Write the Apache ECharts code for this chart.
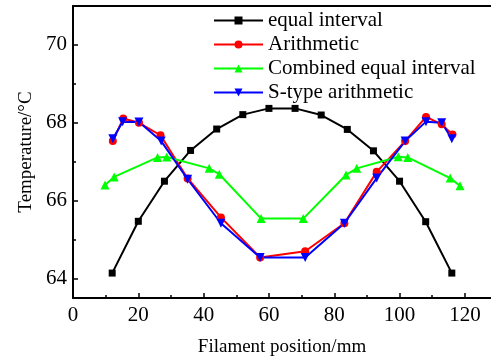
<!DOCTYPE html>
<html>
<head>
<meta charset="utf-8">
<script src="https://cdn.jsdelivr.net/npm/echarts@6/dist/echarts.min.js"></script>
<style>
  html, body { margin: 0; padding: 0; background: #fff; }
  #main { width: 491px; height: 357px; }
</style>
</head>
<body>
<div id="main"></div>
<script>
// filament position (mm) / temperature (°C)
var equalX = [12, 20, 28, 36, 44, 52, 60, 68, 76, 84, 92, 100, 108, 116];
var equalY = [64.14, 65.47, 66.5, 67.29, 67.84, 68.21, 68.37, 68.37, 68.2, 67.83, 67.28, 66.5, 65.46, 64.14];

var arithX = [12.2, 15.4, 20.2, 26.8, 35.1, 45.3, 57.3, 71.1, 83.1, 93.0, 101.7, 108.1, 112.9, 116.2];
var arithY = [67.53, 68.11, 68.0, 67.68, 66.57, 65.57, 64.54, 64.70, 65.42, 66.74, 67.53, 68.15, 67.96, 67.7];

var combX = [9.8, 12.6, 25.9, 28.7, 41.7, 44.8, 57.6, 70.5, 83.6, 86.9, 99.6, 102.5, 115.5, 118.5];
var combY = [66.40, 66.61, 67.11, 67.12, 66.83, 66.68, 65.54, 65.54, 66.66, 66.83, 67.13, 67.11, 66.58, 66.38];

var sTypeX = [12.2, 15.2, 20.2, 27.0, 35.1, 45.3, 57.3, 71.1, 83.1, 93.0, 101.7, 108.1, 112.9, 116.0];
var sTypeY = [67.59, 68.03, 68.02, 67.53, 66.55, 65.42, 64.54, 64.54, 65.42, 66.58, 67.53, 68.03, 68.0, 67.59];

var xMajor = [0, 20, 40, 60, 80, 100, 120];
var xMinor = [10, 30, 50, 70, 90, 110];
var yMajor = [64, 66, 68, 70];
var yMinor = [65, 67, 69];

var font = 'Liberation Serif';

function pairs(xs, ys) {
  return xs.map(function (x, i) { return [x, ys[i]]; });
}

function mkSeries(name, xs, ys, color, symbol, size) {
  return {
    name: name,
    type: 'line',
    xAxisIndex: 0,
    yAxisIndex: 0,
    data: pairs(xs, ys),
    symbol: symbol,
    symbolSize: size,
    itemStyle: { color: color },
    lineStyle: { color: color, width: 2 },
    animation: false
  };
}

var gridPos = { left: 73, top: 6, right: 0, bottom: 59, containLabel: false, outerBoundsMode: 'none' };
var chart = echarts.init(document.getElementById('main'));

chart.setOption({
  backgroundColor: '#fff',
  textStyle: { fontFamily: font },
  grid: [
    Object.assign({}, gridPos),
    Object.assign({}, gridPos)
  ],
  legend: {
    orient: 'vertical',
    left: 213,
    top: 10,
    padding: 0,
    itemGap: 3,
    itemWidth: 49,
    itemHeight: 10,
    textStyle: { fontFamily: font, fontSize: 21, color: '#000', padding: [0, 0, 0, 0] },
    data: ['equal interval', 'Arithmetic', 'Combined equal interval', 'S-type arithmetic']
  },
  xAxis: [
    {
      gridIndex: 0, type: 'value', min: 0, max: 128, position: 'bottom',
      name: 'Filament position/mm', nameLocation: 'middle', nameGap: 40,
      nameTextStyle: { fontFamily: font, fontSize: 19, color: '#000' },
      axisLine: { lineStyle: { color: '#000', width: 2 } },
      axisTick: { inside: true, length: 5, lineStyle: { color: '#000', width: 1.5 }, customValues: xMajor },
      axisLabel: { fontFamily: font, fontSize: 21, color: '#000', margin: 7, customValues: xMajor },
      splitLine: { show: false }
    },
    {
      gridIndex: 0, type: 'value', min: 0, max: 128, position: 'top',
      axisLine: { lineStyle: { color: '#000', width: 2 } },
      axisTick: { show: false }, axisLabel: { show: false }, splitLine: { show: false }
    },
    {
      gridIndex: 1, type: 'value', min: 0, max: 128, position: 'bottom',
      axisLine: { show: false },
      axisTick: { inside: true, length: 3, lineStyle: { color: '#000', width: 1.5 }, customValues: xMinor },
      axisLabel: { show: false }, splitLine: { show: false }
    }
  ],
  yAxis: [
    {
      gridIndex: 0, type: 'value', min: 63.5, max: 71, position: 'left',
      name: 'Temperature/°C', nameLocation: 'middle', nameGap: 30,
      nameTextStyle: { fontFamily: font, fontSize: 19, color: '#000' },
      axisLine: { show: true, lineStyle: { color: '#000', width: 2 } },
      axisTick: { show: true, inside: true, length: 5, lineStyle: { color: '#000', width: 1.5 }, customValues: yMajor },
      axisLabel: { fontFamily: font, fontSize: 21, color: '#000', margin: 6, customValues: yMajor },
      splitLine: { show: false }
    },
    {
      gridIndex: 1, type: 'value', min: 63.5, max: 71, position: 'left',
      axisLine: { show: false },
      axisTick: { show: true, inside: true, length: 3, lineStyle: { color: '#000', width: 1.5 }, customValues: yMinor },
      axisLabel: { show: false }, splitLine: { show: false }
    }
  ],
  series: [
    mkSeries('equal interval', equalX, equalY, '#000000', 'rect', 7),
    mkSeries('Arithmetic', arithX, arithY, '#ff0000', 'circle', 8),
    mkSeries('Combined equal interval', combX, combY, '#00ff00', 'triangle', 9),
    mkSeries('S-type arithmetic', sTypeX, sTypeY, '#0000ff', 'path://M0,0 L10,0 L5,10 Z', 9)
  ]
});
</script>
</body>
</html>
